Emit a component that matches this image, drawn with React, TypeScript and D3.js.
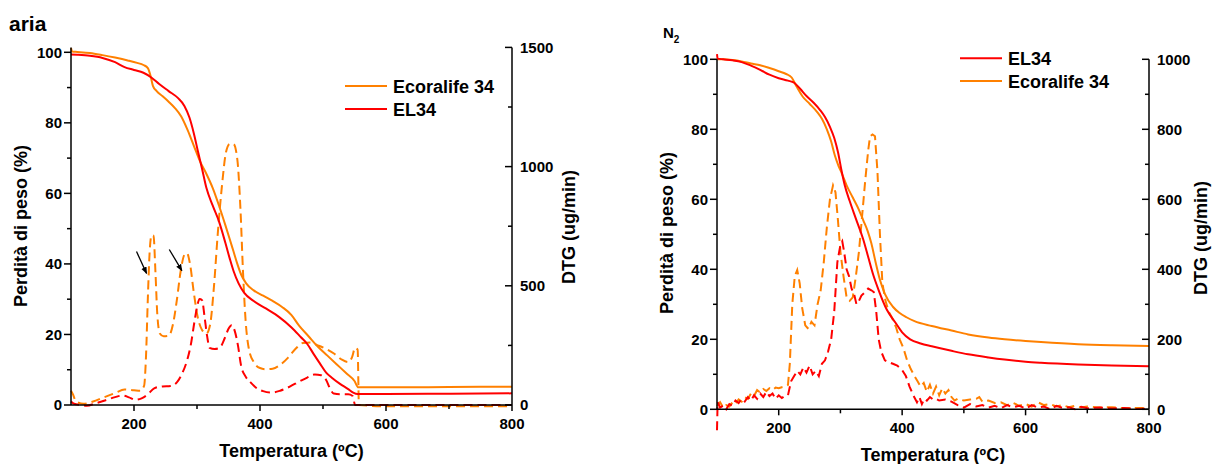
import React from 'react';
import * as d3 from 'd3';

type Pt = [number, number];

// ---------- Panel "aria" ----------
const ariaEcoTG: Pt[] = [
  [100, 101.2], [102, 100.2], [110, 100.1], [130, 99.8], [150, 99.2], [170, 98.5], [190, 97.7], [205, 97],
  [215, 96.4], [222, 95.5], [226, 93.5], [230, 90.5], [236, 89], [245, 87.6], [255, 86], [265, 84.2],
  [275, 81.8], [285, 78], [295, 73.5], [305, 69], [315, 65.5], [325, 61.5], [335, 56.5], [345, 51],
  [352, 47], [358, 43.5], [364, 40], [370, 37], [378, 34.5], [390, 32.5], [405, 31], [420, 29.5],
  [435, 27.8], [450, 25.5], [462, 22.5], [477, 19.5], [492, 16.5], [507, 14], [522, 11.5], [537, 9],
  [550, 6.8], [556, 5], [600, 5], [700, 5.1], [800, 5.2],
];
const ariaEL34TG: Pt[] = [
  [100, 99.4], [110, 99.3], [130, 99], [150, 98.4], [170, 97.2], [185, 95.8], [200, 95], [215, 94.2],
  [228, 92.8], [240, 91], [255, 89], [270, 87], [280, 84.8], [288, 81.5], [295, 77], [302, 71.5],
  [308, 67], [315, 61.5], [325, 56.5], [335, 52], [345, 46], [352, 41.5], [358, 38], [366, 34.5],
  [375, 31.8], [390, 29.5], [410, 27.3], [430, 25], [450, 22], [465, 19.2], [475, 17.3], [485, 14.5],
  [495, 11.8], [505, 9.2], [515, 7.6], [527, 6], [540, 4.5], [548, 3.5], [555, 3.1], [600, 3.1],
  [700, 3.2], [800, 3.3],
];
const ariaEcoDTG: Pt[] = [
  [100, 60], [103, 45], [108, 15], [120, 5], [135, 15], [150, 30], [170, 50], [185, 65], [200, 62],
  [210, 60], [216, 80], [219, 200], [222, 450], [225, 650], [228, 712], [231, 710], [234, 560],
  [237, 380], [241, 300], [247, 288], [255, 290], [262, 340], [268, 440], [274, 560], [280, 630],
  [284, 637], [289, 590], [295, 470], [301, 370], [308, 315], [315, 300], [321, 340], [327, 500],
  [333, 720], [340, 930], [346, 1060], [352, 1095], [358, 1095], [364, 1030], [369, 820], [373, 560],
  [377, 360], [382, 240], [390, 180], [400, 155], [410, 150], [420, 152], [432, 168], [445, 200],
  [458, 240], [468, 260], [480, 262], [492, 250], [505, 235], [518, 215], [530, 190], [540, 180],
  [546, 200], [551, 240], [555, 232], [557, 0], [600, -5], [700, -5], [800, -5],
];
const ariaEL34DTG: Pt[] = [
  [100, 15], [105, 5], [115, 0], [125, -3], [140, 8], [155, 20], [170, 33], [182, 40], [192, 32],
  [202, 22], [212, 28], [222, 45], [232, 70], [245, 78], [258, 80], [268, 95], [276, 130], [284, 185],
  [290, 250], [296, 350], [300, 410], [304, 445], [308, 440], [312, 370], [316, 290], [320, 240],
  [328, 235], [336, 240], [344, 280], [350, 320], [355, 335], [360, 310], [365, 250], [370, 165],
  [377, 120], [385, 95], [395, 70], [405, 58], [418, 52], [432, 60], [448, 78], [462, 98], [475, 115],
  [487, 128], [497, 125], [505, 105], [511, 70], [517, 48], [528, 45], [540, 45], [547, 38], [551, 0],
  [600, 0], [700, 0], [800, 0],
];
// arrows: [startT, startPct, endT, endPct]
const ariaArrows: [number, number, number, number][] = [
  [204, 43.5, 220, 37.3],
  [256, 44.1, 276, 38.1],
];

// ---------- Panel "N2" ----------
const n2EL34TG: Pt[] = [
  [100, 101.5], [101, 100.2], [110, 100], [125, 99.7], [140, 99.2], [155, 98.2], [170, 97], [185, 95.6],
  [200, 94.6], [215, 93.9], [225, 93.3], [235, 91.5], [245, 89.5], [257, 87.5], [267, 85.5], [275, 83.5],
  [283, 80.7], [290, 77.5], [296, 73.5], [302, 68], [307, 64], [315, 59.5], [325, 54.5], [337, 48.5],
  [345, 43.5], [353, 38.5], [362, 34], [375, 28.5], [389, 24.8], [400, 22], [413, 20], [430, 18.8],
  [448, 18], [480, 16.7], [507, 15.7], [540, 14.8], [566, 14.2], [600, 13.6], [625, 13.3], [685, 12.8],
  [740, 12.5], [800, 12.3],
];
const n2EcoTG: Pt[] = [
  [100, 100], [110, 100], [125, 99.8], [140, 99.4], [155, 98.8], [170, 98.3], [185, 97.5], [200, 96.6],
  [212, 95.8], [221, 94.8], [229, 92.2], [239, 89.3], [250, 87.3], [262, 85], [270, 83], [278, 80],
  [285, 76.5], [291, 72.5], [297, 69.5], [302, 67.5], [310, 64], [320, 60.5], [330, 57], [337, 54],
  [344, 51], [350, 47.5], [357, 42], [364, 37], [372, 33], [385, 29.3], [396, 27.5], [407, 26.3],
  [420, 25.2], [448, 23.8], [480, 22.5], [507, 21.4], [540, 20.5], [566, 20], [600, 19.5], [625, 19.2],
  [685, 18.6], [740, 18.3], [800, 18.1],
];
const n2EL34DTG: Pt[] = [
  [100, -60], [101, 20], [105, 5], [110, 10], [115, 0], [120, 15], [125, 10], [130, 25], [135, 18],
  [140, 30], [145, 22], [150, 35], [155, 25], [160, 40], [165, 30], [170, 45], [175, 35], [180, 50],
  [185, 38], [190, 45], [195, 30], [200, 40], [205, 32], [210, 38], [215, 40], [220, 80], [225, 95],
  [230, 110], [235, 100], [240, 120], [245, 105], [250, 125], [255, 100], [260, 110], [265, 95],
  [270, 130], [275, 140], [280, 165], [285, 200], [290, 280], [295, 420], [300, 470], [303, 480],
  [306, 450], [310, 400], [314, 380], [318, 345], [322, 330], [326, 300], [330, 310], [334, 325],
  [340, 335], [345, 345], [350, 340], [354, 335], [358, 280], [362, 200], [366, 165], [372, 140],
  [378, 135], [385, 130], [392, 125], [400, 112], [406, 95], [412, 65], [418, 40], [424, 20], [428, 35],
  [432, 15], [436, 30], [440, 25], [445, 35], [450, 28], [455, 30], [460, 25], [470, 28], [480, 22],
  [490, 12], [500, 5], [510, 15], [520, 8], [530, 12], [540, 5], [550, 10], [560, 3], [570, 12],
  [580, 6], [590, 10], [600, 2], [610, 12], [620, 5], [630, 8], [640, 0], [650, 10], [660, 4], [670, 6],
  [680, 0], [690, 7], [700, 3], [720, 5], [740, 2], [760, 4], [780, 1], [800, 2],
];
const n2EcoDTG: Pt[] = [
  [100, 10], [105, 20], [110, 5], [115, 12], [120, 8], [125, 20], [130, 15], [135, 28], [140, 22],
  [145, 35], [150, 30], [155, 45], [160, 38], [165, 55], [170, 48], [175, 58], [180, 52], [185, 60],
  [190, 55], [195, 62], [200, 60], [205, 63], [210, 65], [215, 70], [218, 130], [222, 300], [226, 380],
  [230, 398], [234, 360], [238, 290], [243, 240], [248, 230], [253, 250], [258, 240], [263, 300],
  [268, 340], [273, 420], [278, 520], [283, 600], [288, 640], [292, 620], [296, 540], [300, 450],
  [305, 380], [310, 320], [315, 310], [320, 320], [325, 380], [330, 450], [335, 550], [340, 650],
  [345, 740], [348, 780], [352, 785], [356, 780], [360, 680], [364, 500], [368, 360], [373, 310],
  [378, 280], [384, 260], [390, 235], [396, 200], [402, 175], [408, 140], [414, 115], [420, 95],
  [425, 80], [430, 65], [435, 75], [440, 50], [445, 70], [450, 45], [455, 65], [460, 40], [465, 60],
  [470, 45], [475, 55], [480, 35], [485, 25], [490, 30], [500, 25], [510, 28], [520, 30], [525, 35],
  [530, 22], [540, 25], [550, 18], [560, 20], [570, 12], [580, 18], [590, 10], [600, 15], [610, 8],
  [620, 20], [630, 12], [640, 15], [650, 8], [660, 12], [670, 6], [680, 10], [690, 5], [700, 8],
  [720, 5], [740, 6], [760, 3], [780, 4], [800, 3],
];

// ---------- ticks ----------
const tempMajor = [200, 400, 600, 800];
const tempMinor = [300, 500, 700];
const pctMajor = [0, 20, 40, 60, 80, 100];
const pctMinor = [10, 30, 50, 70, 90];
const ariaDtgMajor = [0, 500, 1000, 1500];
const ariaDtgMinor = [250, 750, 1250];
const n2DtgMajor = [0, 200, 400, 600, 800, 1000];
const n2DtgMinor = [100, 300, 500, 700, 900];

const legendAria = ['Ecoralife 34', 'EL34'];
const legendN2 = ['EL34', 'Ecoralife 34'];

const ORANGE = '#FF8000';
const RED = '#FF0000';
const FONT = '"Liberation Sans", Arial, Helvetica, sans-serif';

type PanelProps = {
  xr: [number, number];
  y0: number;
  yTop: number;
  dtgMax: number;
  dtgTop: number;
  tgSeries: { data: Pt[]; color: string }[];
  dtgSeries: { data: Pt[]; color: string; noisy: boolean }[];
  dtgMajor: number[];
  dtgMinor: number[];
  legend: { label: string; color: string }[];
  legendX: number;
  legendY: number[];
  xTitleY: number;
  yTitlePos: [number, number];
  dtgTitlePos: [number, number];
  arrows?: [number, number, number, number][];
};

function Panel(p: PanelProps) {
  const x = d3.scaleLinear().domain([100, 800]).range(p.xr);
  const tg = d3.scaleLinear().domain([0, 100]).range([p.y0, p.yTop]);
  const dtg = d3.scaleLinear().domain([0, p.dtgMax]).range([p.y0, p.dtgTop]);
  const tgLine = d3.line<Pt>().x(d => x(d[0])).y(d => tg(d[1])).curve(d3.curveMonotoneX);
  const dtgSmooth = d3.line<Pt>().x(d => x(d[0])).y(d => dtg(d[1])).curve(d3.curveMonotoneX);
  const dtgNoisy = d3.line<Pt>().x(d => x(d[0])).y(d => dtg(d[1])).curve(d3.curveLinear);
  const [xL, xR] = p.xr;
  const top = dtg(p.dtgMax);
  const tickStyle = { stroke: '#000', strokeWidth: 1.5 };
  const lbl = { fontFamily: FONT, fontWeight: 700, fontSize: 15, fill: '#000' } as const;
  const ttl = { fontFamily: FONT, fontWeight: 700, fontSize: 18, fill: '#000' } as const;
  return (
    <g>
      {p.dtgSeries.map((s, i) => (
        <path key={'d' + i} d={(s.noisy ? dtgNoisy : dtgSmooth)(s.data) || ''} fill="none" stroke={s.color}
          strokeWidth={2} strokeDasharray="9,5" />
      ))}
      {p.tgSeries.map((s, i) => (
        <path key={'t' + i} d={tgLine(s.data) || ''} fill="none" stroke={s.color} strokeWidth={2} />
      ))}
      {/* axes */}
      <line x1={xL} x2={xR} y1={p.y0} y2={p.y0} {...tickStyle} />
      <line x1={xL} x2={xL} y1={top} y2={p.y0} {...tickStyle} />
      <line x1={xR} x2={xR} y1={top} y2={p.y0} {...tickStyle} />
      {tempMajor.map(t => (
        <g key={'tx' + t}>
          <line x1={x(t)} x2={x(t)} y1={p.y0} y2={p.y0 + 6} {...tickStyle} />
          <text x={x(t)} y={p.y0 + 23.5} textAnchor="middle" style={lbl}>{t}</text>
        </g>
      ))}
      {tempMinor.map(t => (
        <line key={'tm' + t} x1={x(t)} x2={x(t)} y1={p.y0} y2={p.y0 + 4} {...tickStyle} />
      ))}
      {pctMajor.map(v => (
        <g key={'py' + v}>
          <line x1={xL - 7} x2={xL} y1={tg(v)} y2={tg(v)} {...tickStyle} />
          <text x={xL - 9} y={tg(v)} dy="0.36em" textAnchor="end" style={lbl}>{v}</text>
        </g>
      ))}
      {pctMinor.map(v => (
        <line key={'pm' + v} x1={xL - 4} x2={xL} y1={tg(v)} y2={tg(v)} {...tickStyle} />
      ))}
      {p.dtgMajor.map(v => (
        <g key={'dy' + v}>
          <line x1={xR - 7} x2={xR} y1={dtg(v)} y2={dtg(v)} {...tickStyle} />
          <text x={xR + 8} y={dtg(v)} dy="0.36em" textAnchor="start" style={lbl}>{v}</text>
        </g>
      ))}
      {p.dtgMinor.map(v => (
        <line key={'dm' + v} x1={xR - 4} x2={xR} y1={dtg(v)} y2={dtg(v)} {...tickStyle} />
      ))}
      {/* titles */}
      <text x={(xL + xR) / 2} y={p.xTitleY} textAnchor="middle" style={ttl}>Temperatura (ºC)</text>
      <text transform={`translate(${p.yTitlePos[0]},${p.yTitlePos[1]}) rotate(-90)`} textAnchor="middle" style={ttl}>
        Perdità di peso (%)
      </text>
      <text transform={`translate(${p.dtgTitlePos[0]},${p.dtgTitlePos[1]}) rotate(-90)`} textAnchor="middle" style={ttl}>
        DTG (ug/min)
      </text>
      {/* legend */}
      {p.legend.map((l, i) => (
        <g key={'lg' + i}>
          <line x1={p.legendX} x2={p.legendX + 42} y1={p.legendY[i]} y2={p.legendY[i]} stroke={l.color} strokeWidth={2} />
          <text x={p.legendX + 48} y={p.legendY[i] + 6.5} style={ttl}>{l.label}</text>
        </g>
      ))}
      {(p.arrows || []).map((a, i) => (
        <line key={'ar' + i} x1={x(a[0])} y1={tg(a[1])} x2={x(a[2])} y2={tg(a[3])} stroke="#000" strokeWidth={1.3}
          markerEnd="url(#arrowHead)" />
      ))}
    </g>
  );
}

export default function App() {
  return (
    <svg width={1212} height={464} style={{ position: 'absolute', left: 0, top: 0, background: '#fff' }}>
      <defs>
        <marker id="arrowHead" viewBox="0 0 10 10" refX="9" refY="5" markerWidth="7" markerHeight="7"
          orient="auto" markerUnits="userSpaceOnUse">
          <path d="M0,1 L10,5 L0,9 Z" fill="#000" />
        </marker>
      </defs>
      <rect x={0} y={0} width={1212} height={464} fill="#fff" />
      <text x={9} y={31} style={{ fontFamily: FONT, fontWeight: 700, fontSize: 21 }}>aria</text>
      <text x={663} y={38} style={{ fontFamily: FONT, fontWeight: 700, fontSize: 15 }}>
        N<tspan dy={5} fontSize={10}>2</tspan>
      </text>
      <Panel
        xr={[71, 512]}
        y0={405}
        yTop={52.3}
        dtgMax={1500}
        dtgTop={47.4}
        tgSeries={[{ data: ariaEcoTG, color: ORANGE }, { data: ariaEL34TG, color: RED }]}
        dtgSeries={[{ data: ariaEcoDTG, color: ORANGE, noisy: false }, { data: ariaEL34DTG, color: RED, noisy: false }]}
        dtgMajor={ariaDtgMajor}
        dtgMinor={ariaDtgMinor}
        legend={[{ label: legendAria[0], color: ORANGE }, { label: legendAria[1], color: RED }]}
        legendX={345}
        legendY={[86, 109]}
        xTitleY={457}
        yTitlePos={[27, 226]}
        dtgTitlePos={[575, 227]}
        arrows={ariaArrows}
      />
      <Panel
        xr={[717, 1149]}
        y0={409.3}
        yTop={59.3}
        dtgMax={1000}
        dtgTop={59.3}
        tgSeries={[{ data: n2EcoTG, color: ORANGE }, { data: n2EL34TG, color: RED }]}
        dtgSeries={[{ data: n2EcoDTG, color: ORANGE, noisy: true }, { data: n2EL34DTG, color: RED, noisy: true }]}
        dtgMajor={n2DtgMajor}
        dtgMinor={n2DtgMinor}
        legend={[{ label: legendN2[0], color: RED }, { label: legendN2[1], color: ORANGE }]}
        legendX={960}
        legendY={[58.3, 81]}
        xTitleY={461}
        yTitlePos={[673, 233]}
        dtgTitlePos={[1207, 238]}
      />
    </svg>
  );
}
